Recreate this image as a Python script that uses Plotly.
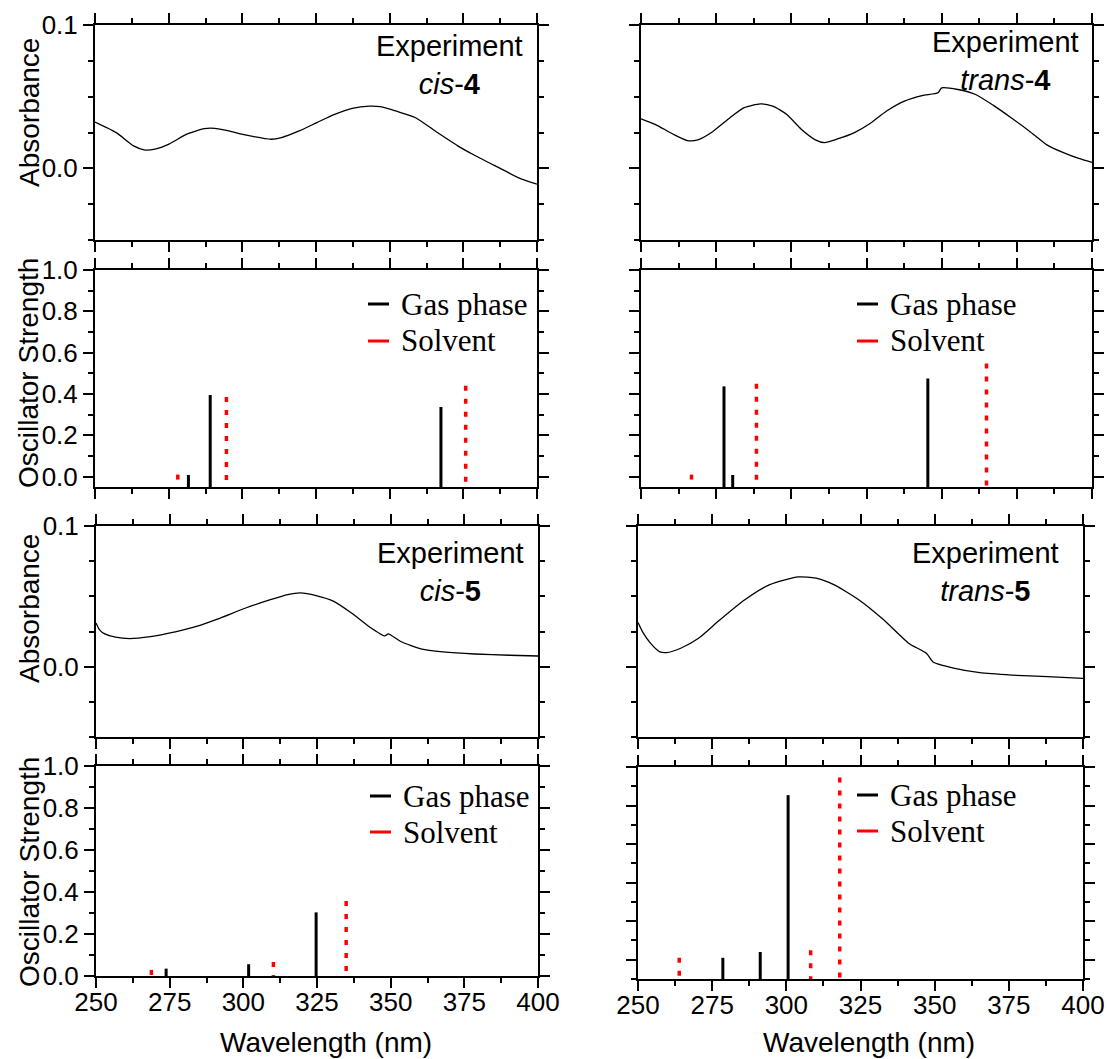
import plotly.graph_objects as go

W, H = 1107, 1059

# ---------------- data ----------------
cis4_wl = [250, 257.2, 263.1, 266.7, 270.3, 275.1, 281.1, 287.1, 290.6, 295.4, 301.4, 309.8, 313.3,
           319.3, 325.3, 331.3, 337.3, 343.2, 346.8, 352.8, 358.8, 365.9, 373.1, 379.1, 387.5, 394.6, 400]
cis4_abs = [0.0323, 0.0249, 0.0157, 0.0129, 0.0134, 0.0169, 0.0238, 0.0277, 0.0279, 0.0261, 0.0231, 0.0203, 0.0215,
            0.0261, 0.0319, 0.0376, 0.0418, 0.0434, 0.0430, 0.0395, 0.0353, 0.0254, 0.0157, 0.0088, 0.0, -0.0074, -0.0111]

trans4_wl = [250, 254.7, 260.7, 265.4, 268.9, 273.7, 279.6, 284.3, 289.7, 293.8, 298.5, 303.3, 308.0, 311.0,
             315.1, 321.0, 325.8, 331.7, 337.6, 343.5, 348.8, 350.0, 355.4, 361.3, 367.2, 373.1, 379.1, 385.0,
             390.9, 395.6, 400]
trans4_abs = [0.0346, 0.0307, 0.0238, 0.0194, 0.0199, 0.0254, 0.0353, 0.0423, 0.0450, 0.0434, 0.0376, 0.0273, 0.0199, 0.0180,
              0.0203, 0.0249, 0.0307, 0.0400, 0.0469, 0.0508, 0.0527, 0.0561, 0.0550, 0.0515, 0.0439, 0.0353, 0.0261, 0.0164,
              0.0106, 0.0069, 0.0042]

cis5_wl = [250, 251.2, 253.0, 256.6, 261.4, 268.5, 276.9, 284.1, 291.2, 300.8, 309.2, 315.1, 319.3, 324.7,
           330.7, 336.7, 342.6, 348.0, 349.2, 353.4, 360.6, 367.7, 378.5, 390.4, 400]
cis5_abs = [0.031, 0.0262, 0.0233, 0.021, 0.020, 0.0214, 0.0248, 0.0286, 0.0338, 0.0417, 0.0476, 0.0512, 0.0524, 0.0505,
            0.0464, 0.0381, 0.0286, 0.0219, 0.0233, 0.0179, 0.0124, 0.0105, 0.009, 0.0081, 0.0076]

trans5_wl = [250, 251.8, 254.2, 257.2, 259.6, 264.4, 270.4, 277.6, 286.0, 294.4, 304.0, 310.0, 316.0, 324.4,
             332.8, 341.2, 347.2, 349.6, 356.8, 365.2, 376.0, 388.0, 400]
trans5_abs = [0.0314, 0.0238, 0.0167, 0.0107, 0.0100, 0.0131, 0.0202, 0.0333, 0.0476, 0.0583, 0.0638, 0.0629, 0.0583, 0.0476,
              0.0333, 0.0167, 0.0095, 0.0031, -0.0012, -0.0043, -0.0060, -0.0071, -0.0083]

cis4_gas_wl = [281.7, 289.1, 367.4]
cis4_gas_f = [0.008, 0.395, 0.337]
cis4_solv_wl = [278.1, 294.6, 375.8]
cis4_solv_f = [0.010, 0.385, 0.440]

trans4_gas_wl = [277.6, 280.5, 345.4]
trans4_gas_f = [0.437, 0.008, 0.475]
trans4_solv_wl = [266.8, 288.4, 364.9]
trans4_solv_f = [0.010, 0.450, 0.548]

cis5_gas_wl = [273.8, 301.8, 324.7]
cis5_gas_f = [0.035, 0.056, 0.303]
cis5_solv_wl = [268.8, 310.2, 334.9]
cis5_solv_f = [0.029, 0.067, 0.357]

trans5_gas_wl = [278.6, 291.2, 300.6]
trans5_gas_f = [0.010, 0.040, 0.854]
trans5_solv_wl = [263.9, 308.2, 318.0]
trans5_solv_f = [0.010, 0.049, 0.945]

x_range = [250, 400]
abs_range = [-0.05, 0.1]
osc_ranges = {"cis4": [-0.05, 1.0], "trans4": [-0.05, 1.0], "cis5": [0.0, 1.0], "trans5": [-0.1, 1.0]}

labels = {"cis4": "Experiment<br><i>cis</i>-<b>4</b>",
          "trans4": "Experiment<br><i>trans</i>-<b>4</b>",
          "cis5": "Experiment<br><i>cis</i>-<b>5</b>",
          "trans5": "Experiment<br><i>trans</i>-<b>5</b>"}

# ---------------- layout geometry (pixels) ----------------
# (x0, x1, y_top, y_bottom)
panels = {
    1: (95, 537, 25, 240),     # cis-4 absorbance
    2: (95, 537, 270, 487),    # cis-4 oscillator
    3: (96, 538, 526, 737),    # cis-5 absorbance
    4: (96, 538, 766, 976),    # cis-5 oscillator
    5: (641, 1092, 25, 240),   # trans-4 absorbance
    6: (641, 1092, 270, 487),  # trans-4 oscillator
    7: (638, 1083, 526, 737),  # trans-5 absorbance
    8: (638, 1083, 767, 979),  # trans-5 oscillator
}

def px(x):
    return x / W

def py(y):
    return 1 - y / H

SANS = "Liberation Sans, Arial, sans-serif"
SERIF = "Liberation Serif, Times New Roman, serif"

fig = go.Figure()

def ax_name(i, kind):
    return kind if i == 1 else f"{kind}{i}"

def add_curve(i, wl, ab):
    fig.add_trace(go.Scatter(x=wl, y=ab, mode="lines", line=dict(color="black", width=1.3, shape="spline", smoothing=0.6),
                             xaxis=ax_name(i, "x"), yaxis=ax_name(i, "y"), showlegend=False, hoverinfo="skip"))

def add_sticks(i, wl, f, base, color, width, dash):
    xs, ys = [], []
    for w, v in zip(wl, f):
        xs += [w, w, None]
        ys += [v, base, None]
    fig.add_trace(go.Scatter(x=xs, y=ys, mode="lines", line=dict(color=color, width=width, dash=dash),
                             xaxis=ax_name(i, "x"), yaxis=ax_name(i, "y"), showlegend=False, hoverinfo="skip"))

add_curve(1, cis4_wl, cis4_abs)
add_curve(3, cis5_wl, cis5_abs)
add_curve(5, trans4_wl, trans4_abs)
add_curve(7, trans5_wl, trans5_abs)

osc = [
    (2, "cis4", cis4_gas_wl, cis4_gas_f, cis4_solv_wl, cis4_solv_f),
    (4, "cis5", cis5_gas_wl, cis5_gas_f, cis5_solv_wl, cis5_solv_f),
    (6, "trans4", trans4_gas_wl, trans4_gas_f, trans4_solv_wl, trans4_solv_f),
    (8, "trans5", trans5_gas_wl, trans5_gas_f, trans5_solv_wl, trans5_solv_f),
]
for i, key, gw, gf, sw, sf in osc:
    base = osc_ranges[key][0]
    add_sticks(i, gw, gf, base, "black", 3, "solid")
    add_sticks(i, sw, sf, base, "#ff0000", 3.5, "5px,8px")

axis_common = dict(showline=True, linecolor="black", linewidth=2, mirror="allticks", ticks="outside",
                   ticklen=10, tickwidth=2, tickcolor="black", showgrid=False, zeroline=False, automargin=False,
                   tickfont=dict(family=SANS, size=26, color="black"))

layout = dict(width=W, height=H, margin=dict(l=0, r=0, t=0, b=0, pad=0), autosize=False,
              paper_bgcolor="white", plot_bgcolor="white", showlegend=False)

panel_keys = {1: ("abs", None), 2: ("osc", "cis4"), 3: ("abs", None), 4: ("osc", "cis5"),
              5: ("abs", None), 6: ("osc", "trans4"), 7: ("abs", None), 8: ("osc", "trans5")}

for i, (x0, x1, yt, yb) in panels.items():
    kind, key = panel_keys[i]
    xa = dict(axis_common, domain=[px(x0), px(x1)], range=x_range, dtick=25, tick0=250,
              minor=dict(dtick=12.5, ticklen=5, tickwidth=2, tickcolor="black", ticks="outside"),
              anchor=ax_name(i, "y"), showticklabels=(i in (4, 8)), ticklabelstandoff=-8)
    if kind == "abs":
        ya = dict(axis_common, domain=[py(yb), py(yt)], range=abs_range, dtick=0.1, tick0=0, tickformat=".1f",
                  minor=dict(dtick=0.025, tick0=0, ticklen=5, tickwidth=2, tickcolor="black", ticks="outside"))
    else:
        ya = dict(axis_common, domain=[py(yb), py(yt)], range=osc_ranges[key], dtick=0.2, tick0=0, tickformat=".1f",
                  minor=dict(dtick=0.1, tick0=0, ticklen=5, tickwidth=2, tickcolor="black", ticks="outside"))
    ya["anchor"] = ax_name(i, "x")
    ya["showticklabels"] = i <= 4
    layout["xaxis" if i == 1 else f"xaxis{i}"] = xa
    layout["yaxis" if i == 1 else f"yaxis{i}"] = ya

fig.update_layout(**layout)

annotations = []
shapes = []

# Experiment labels
for key, (xc, yc) in {"cis4": (449, 65), "trans4": (1005, 61), "cis5": (450, 572), "trans5": (985, 572)}.items():
    annotations.append(dict(text=labels[key], x=px(xc), y=py(yc), xref="paper", yref="paper",
                            xanchor="center", yanchor="middle", align="center", showarrow=False,
                            font=dict(family=SANS, size=29, color="black")))

# legends
for (lx0, ty1, ty2) in [(368, 304, 341), (857, 304, 341), (370, 796, 832), (857, 795, 831)]:
    for ty, col, txt in [(ty1, "black", "Gas phase"), (ty2, "#ff0000", "Solvent")]:
        shapes.append(dict(type="line", xref="paper", yref="paper", x0=px(lx0), x1=px(lx0 + 21),
                           y0=py(ty), y1=py(ty), line=dict(color=col, width=3)))
        annotations.append(dict(text=txt, x=px(lx0 + 31), y=py(ty), xref="paper", yref="paper",
                                xanchor="left", yanchor="middle", showarrow=False,
                                font=dict(family=SERIF, size=31, color="black")))

# axis titles
for txt, yc in [("Absorbance", 113), ("Oscillator Strength", 373), ("Absorbance", 609), ("Oscillator Strength", 872)]:
    annotations.append(dict(text=txt, x=px(29), y=py(yc), xref="paper", yref="paper", textangle=-90,
                            xanchor="center", yanchor="middle", showarrow=False,
                            font=dict(family=SANS, size=28, color="black")))
for xc in (326, 869):
    annotations.append(dict(text="Wavelength (nm)", x=px(xc), y=py(1042), xref="paper", yref="paper",
                            xanchor="center", yanchor="middle", showarrow=False,
                            font=dict(family=SANS, size=28, color="black")))

fig.update_layout(annotations=annotations, shapes=shapes)
fig.write_html("out.html")
